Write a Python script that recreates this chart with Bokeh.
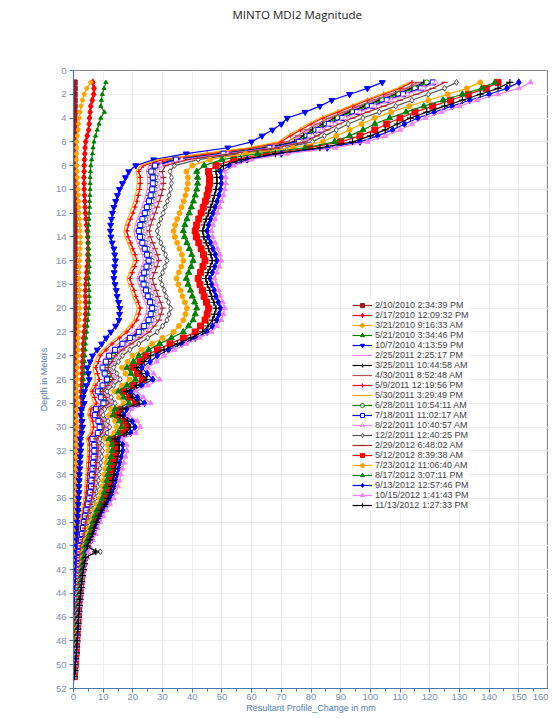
from bokeh.plotting import figure
from bokeh.models import Range1d, FixedTicker, Legend, LegendItem
from bokeh.embed import file_html
from bokeh.resources import INLINE

depth = [
1.0, 1.5, 2.0, 2.5, 3.0, 3.5, 4.0, 4.5, 5.0, 5.5,
6.0, 6.5, 7.0, 7.5, 8.0, 8.5, 9.0, 9.5, 10.0, 10.5,
11.0, 11.5, 12.0, 12.5, 13.0, 13.5, 14.0, 14.5, 15.0, 15.5,
16.0, 16.5, 17.0, 17.5, 18.0, 18.5, 19.0, 19.5, 20.0, 20.5,
21.0, 21.5, 22.0, 22.5, 23.0, 23.5, 24.0, 24.5, 25.0, 25.5,
26.0, 26.5, 27.0, 27.5, 28.0, 28.5, 29.0, 29.5, 30.0, 30.5,
31.0, 31.5, 32.0, 32.5, 33.0, 33.5, 34.0, 34.5, 35.0, 35.5,
36.0, 36.5, 37.0, 37.5, 38.0, 38.5, 39.0, 39.5, 40.0, 40.5,
41.0, 41.5, 42.0, 42.5, 43.0, 43.5, 44.0, 44.5, 45.0, 45.5,
46.0, 46.5, 47.0, 47.5, 48.0, 48.5, 49.0, 49.5, 50.0, 50.5,
51.0]

labels = [
    "2/10/2010 2:34:39 PM", "2/17/2010 12:09:32 PM", "3/21/2010 9:16:33 AM",
    "5/21/2010 3:34:46 PM", "10/7/2010 4:13:59 PM", "2/25/2011 2:25:17 PM",
    "3/25/2011 10:44:58 AM", "4/30/2011 8:52:48 AM", "5/9/2011 12:19:56 PM",
    "5/30/2011 3:29:49 PM", "6/28/2011 10:54:11 AM", "7/18/2011 11:02:17 AM",
    "8/22/2011 10:40:57 AM", "12/2/2011 12:40:25 PM", "2/29/2012 6:48:02 AM",
    "5/12/2012 8:39:38 AM", "7/23/2012 11:06:40 AM", "8/17/2012 3:07:11 PM",
    "9/13/2012 12:57:46 PM", "10/15/2012 1:41:43 PM", "11/13/2012 1:27:33 PM",
]

v01 = [
0.4, 0.4, 0.4, 0.4, 0.4, 0.4, 0.4, 0.4, 0.4, 0.4,
0.4, 0.4, 0.4, 0.4, 0.4, 0.4, 0.4, 0.4, 0.4, 0.4,
0.4, 0.4, 0.4, 0.4, 0.4, 0.4, 0.4, 0.4, 0.4, 0.4,
0.4, 0.4, 0.4, 0.4, 0.4, 0.4, 0.4, 0.4, 0.4, 0.4,
0.4, 0.4, 0.4, 0.4, 0.4, 0.4, 0.4, 0.4, 0.4, 0.4,
0.4, 0.4, 0.4, 0.4, 0.4, 0.4, 0.4, 0.4, 0.4, 0.4,
0.4, 0.4, 0.4, 0.4, 0.4, 0.4, 0.4, 0.4, 0.4, 0.4,
0.4, 0.4, 0.4, 0.4, 0.4, 0.4, 0.4, 0.4, 0.4, 0.4,
0.4, 0.4, 0.4, 0.4, 0.4, 0.4, 0.4, 0.4, 0.4, 0.4,
0.4, 0.4, 0.4, 0.4, 0.4, 0.4, 0.4, 0.4, 0.4, 0.4,
0.4]
v02 = [
6.5, 6.9, 6.8, 6.3, 5.8, 5.6, 5.4, 5.3, 5.1, 4.6,
4.1, 3.9, 3.8, 3.7, 3.6, 3.6, 3.5, 3.6, 3.6, 3.7,
3.8, 3.9, 4.0, 4.2, 4.4, 4.6, 4.8, 4.9, 4.9, 4.8,
4.8, 4.6, 4.4, 4.3, 4.1, 4.0, 4.0, 4.1, 4.2, 4.1,
4.0, 3.8, 3.6, 3.4, 3.3, 3.2, 3.1, 3.0, 2.9, 2.9,
2.8, 2.7, 2.6, 2.6, 2.8, 2.5, 2.4, 2.5, 2.4, 2.3,
2.2, 2.2, 2.1, 2.1, 2.0, 2.0, 1.9, 1.9, 1.8, 1.8,
1.7, 1.7, 1.6, 1.6, 1.5, 1.5, 1.4, 1.4, 1.3, 1.4,
1.2, 1.2, 1.1, 1.1, 1.0, 1.0, 0.9, 0.9, 0.8, 0.8,
0.7, 0.7, 0.6, 0.6, 0.5, 0.5, 0.4, 0.4, 0.3, 0.3,
0.2]
v03 = [
5.8, 4.5, 3.6, 3.0, 2.5, 2.2, 1.9, 1.7, 1.6, 1.3,
1.1, 1.1, 1.0, 1.0, 1.1, 1.2, 1.3, 1.4, 1.5, 1.6,
1.7, 1.8, 1.9, 2.0, 2.1, 2.2, 2.3, 2.3, 2.2, 2.1,
2.0, 2.0, 1.9, 1.9, 1.9, 2.0, 2.0, 2.1, 2.1, 2.0,
1.9, 1.8, 1.7, 1.6, 1.5, 1.5, 1.4, 1.4, 1.3, 1.3,
1.2, 1.2, 1.1, 1.1, 1.3, 1.1, 1.0, 1.0, 1.0, 0.9,
0.9, 0.9, 0.8, 0.8, 0.8, 0.8, 0.7, 0.7, 0.7, 0.7,
0.6, 0.6, 0.6, 0.6, 0.5, 0.5, 0.5, 0.5, 0.5, 0.5,
0.4, 0.4, 0.4, 0.4, 0.4, 0.3, 0.3, 0.3, 0.3, 0.3,
0.3, 0.2, 0.2, 0.2, 0.2, 0.2, 0.2, 0.1, 0.1, 0.1,
0.1]
v04 = [
10.9, 10.3, 9.7, 9.4, 9.2, 10.4, 9.2, 8.6, 8.0, 7.4,
6.9, 6.6, 6.4, 6.1, 5.8, 5.7, 5.6, 5.6, 5.6, 5.5,
5.4, 5.4, 5.3, 5.2, 5.1, 5.0, 4.9, 5.0, 5.1, 5.2,
5.3, 5.3, 5.2, 5.1, 5.1, 5.2, 5.3, 5.3, 5.2, 5.0,
4.8, 4.6, 4.4, 4.2, 4.0, 3.9, 3.8, 3.7, 3.6, 3.5,
3.4, 3.3, 3.2, 3.1, 3.3, 3.0, 2.9, 2.9, 2.8, 2.7,
2.6, 2.6, 2.5, 2.4, 2.3, 2.2, 2.2, 2.1, 2.0, 2.0,
1.9, 1.8, 1.8, 1.7, 1.6, 1.6, 1.5, 1.5, 1.4, 1.5,
1.3, 1.3, 1.2, 1.2, 1.1, 1.1, 1.0, 1.0, 0.9, 0.9,
0.8, 0.8, 0.7, 0.7, 0.6, 0.6, 0.5, 0.5, 0.4, 0.4,
0.3]
v05 = [
104, 99, 93, 87, 83, 78, 72, 70, 67, 63.5,
60, 52, 38, 27, 21, 18.6, 17.5, 16.5, 15.5, 14.8,
14.2, 13.6, 13.1, 12.8, 12.5, 12.4, 12.6, 13.0, 13.6, 13.9,
14.1, 13.9, 13.7, 13.6, 14.0, 14.4, 14.7, 15.2, 15.6, 15.5,
15.3, 14.2, 12.6, 11.0, 9.5, 8.0, 6.4, 5.6, 4.7, 5.0,
5.3, 4.4, 3.7, 3.2, 3.6, 2.7, 2.5, 2.9, 3.1, 2.8,
2.3, 2.5, 2.4, 2.3, 2.2, 2.1, 2.0, 1.9, 1.8, 1.8,
1.7, 1.6, 1.5, 1.4, 1.3, 1.2, 1.1, 1.1, 1.0, 1.0,
0.9, 0.9, 0.8, 0.8, 0.8, 0.7, 0.7, 0.7, 0.6, 0.6,
0.6, 0.5, 0.5, 0.5, 0.4, 0.4, 0.3, 0.3, 0.2, 0.2,
0.1]
v06 = [
117, 113, 107.5, 102, 97, 92, 87, 83, 79.5, 76.5,
73.5, 63, 47.5, 32, 25.5, 24.5, 25.0, 25.0, 24.8, 24.3,
23.7, 23.0, 22.3, 21.5, 20.8, 20.3, 20.7, 21.5, 22.3, 23.1,
23.6, 22.9, 22.1, 21.3, 21.9, 22.7, 23.3, 24.1, 24.8, 24.3,
23.6, 22.1, 20.3, 17.5, 15.0, 13.0, 11.0, 10.0, 9.0, 9.7,
10.4, 9.0, 7.6, 8.5, 9.4, 7.0, 6.7, 7.7, 8.1, 7.6,
5.9, 6.5, 6.5, 6.3, 6.1, 5.9, 5.8, 5.6, 5.4, 5.1,
4.9, 4.4, 4.0, 3.6, 3.2, 3.0, 2.7, 2.3, 2.0, 1.9,
1.8, 1.7, 1.6, 1.5, 1.4, 1.3, 1.3, 1.2, 1.1, 1.0,
1.0, 0.9, 0.8, 0.7, 0.7, 0.6, 0.5, 0.4, 0.3, 0.3,
0.2]
v07 = [
118, 114, 108.5, 103, 98, 93, 88, 84, 80.5, 77.5,
74.5, 64.5, 49, 33.5, 27.5, 26.5, 27.0, 27.0, 26.8, 26.3,
25.9, 25.2, 24.5, 23.7, 23.0, 22.5, 22.9, 23.7, 24.5, 25.3,
25.8, 25.1, 24.3, 23.5, 24.1, 24.9, 25.5, 26.3, 27.0, 26.5,
25.8, 24.3, 22.5, 19.5, 16.8, 14.8, 13.0, 12.0, 10.8, 11.6,
12.5, 10.8, 9.0, 10.1, 11.2, 8.4, 8.0, 9.2, 9.7, 9.0,
7.1, 7.7, 7.7, 7.5, 7.3, 7.1, 6.9, 6.7, 6.5, 6.1,
5.8, 5.3, 4.7, 4.3, 3.9, 3.5, 3.2, 2.8, 2.4, 2.2,
2.1, 2.0, 1.9, 1.8, 1.7, 1.6, 1.5, 1.4, 1.3, 1.2,
1.1, 1.0, 0.9, 0.8, 0.8, 0.7, 0.6, 0.5, 0.4, 0.3,
0.2]
v08 = [
116, 112, 106.5, 101, 96, 91, 86, 82, 78.5, 75.5,
72, 62, 47, 32.5, 26.5, 25.5, 26.0, 26.0, 25.8, 25.3,
24.9, 24.2, 23.5, 22.7, 22.0, 21.5, 21.9, 22.7, 23.5, 24.3,
24.8, 24.1, 23.3, 22.5, 23.1, 23.9, 24.5, 25.3, 26.0, 25.5,
24.8, 23.3, 21.5, 18.5, 16.0, 14.0, 12.5, 11.5, 10.3, 11.1,
11.9, 10.3, 8.6, 9.6, 10.7, 8.0, 7.6, 8.8, 9.2, 8.6,
6.8, 7.4, 7.4, 7.2, 7.0, 6.8, 6.6, 6.4, 6.2, 5.9,
5.5, 5.0, 4.5, 4.1, 3.7, 3.4, 3.1, 2.7, 2.3, 2.1,
2.0, 1.9, 1.8, 1.7, 1.6, 1.5, 1.4, 1.3, 1.2, 1.1,
1.0, 1.0, 0.9, 0.8, 0.7, 0.6, 0.5, 0.4, 0.4, 0.3,
0.2]
v09 = [
114, 110, 104.5, 99, 94, 89, 84, 80, 76.5, 73,
70, 60, 45, 30, 23.5, 22.0, 22.5, 22.5, 22.3, 21.8,
21.4, 20.7, 20.0, 19.2, 18.5, 18.0, 18.4, 19.2, 20.0, 20.8,
21.3, 20.6, 19.8, 19.0, 19.6, 20.4, 21.0, 21.8, 22.5, 22.0,
21.3, 19.8, 18.0, 15.5, 13.0, 11.0, 9.0, 8.4, 7.5, 8.1,
8.7, 7.5, 6.3, 7.1, 7.8, 5.9, 5.6, 6.5, 6.8, 6.3,
5.0, 5.4, 5.4, 5.3, 5.1, 5.0, 4.8, 4.7, 4.5, 4.3,
4.1, 3.7, 3.3, 3.0, 2.7, 2.5, 2.3, 2.0, 1.7, 1.6,
1.5, 1.5, 1.4, 1.3, 1.3, 1.2, 1.1, 1.1, 1.0, 1.0,
0.9, 0.8, 0.8, 0.7, 0.6, 0.5, 0.5, 0.4, 0.3, 0.2,
0.2]
v10 = [
113, 109, 103.5, 98, 93, 88, 83, 79, 75.5, 72,
69, 59, 43.5, 28.5, 22.5, 21.0, 21.5, 21.5, 21.3, 20.8,
20.4, 19.7, 19.0, 18.2, 17.5, 17.0, 17.4, 18.2, 19.0, 19.8,
20.3, 19.6, 18.8, 18.0, 18.6, 19.4, 20.0, 20.8, 21.5, 21.0,
20.3, 18.8, 17.0, 14.5, 12.0, 10.0, 8.0, 7.3, 6.5, 7.0,
7.5, 6.5, 5.5, 6.1, 6.8, 5.1, 4.8, 5.6, 5.9, 5.5,
4.3, 4.7, 4.7, 4.6, 4.4, 4.3, 4.2, 4.0, 3.9, 3.7,
3.5, 3.2, 2.9, 2.6, 2.3, 2.1, 2.0, 1.7, 1.4, 1.3,
1.3, 1.2, 1.2, 1.1, 1.1, 1.0, 1.0, 0.9, 0.9, 0.8,
0.8, 0.7, 0.7, 0.6, 0.5, 0.5, 0.4, 0.3, 0.3, 0.2,
0.1]
v11 = [
119, 115, 109.5, 104, 99, 94, 89, 85, 81.5, 78.5,
75.5, 65.5, 50, 34, 28, 27.0, 27.6, 27.6, 27.4, 27.0,
26.4, 25.7, 25.0, 24.2, 23.5, 23.0, 23.4, 24.2, 25.0, 25.8,
26.3, 25.6, 24.8, 24.0, 24.6, 25.4, 26.0, 26.8, 27.5, 27.0,
26.3, 24.8, 23.0, 20.0, 17.3, 15.0, 13.5, 12.3, 11.0, 11.9,
12.8, 11.0, 9.2, 10.3, 11.4, 8.6, 8.1, 9.5, 9.9, 9.2,
7.3, 7.9, 7.9, 7.7, 7.5, 7.3, 7.0, 6.8, 6.6, 6.3,
5.9, 5.4, 4.8, 4.4, 4.0, 3.6, 3.3, 2.9, 2.4, 2.2,
2.1, 2.0, 1.9, 1.8, 1.7, 1.6, 1.5, 1.4, 1.3, 1.2,
1.1, 1.0, 1.0, 0.9, 0.8, 0.7, 0.6, 0.5, 0.4, 0.3,
0.2]
v12 = [
121, 117, 111, 105.5, 100.5, 95.5, 90.5, 86, 82.5, 79.5,
76, 66, 50.5, 34.5, 27.5, 26.2, 26.7, 26.7, 26.5, 26.0,
25.4, 24.7, 24.0, 23.2, 22.5, 22.0, 22.4, 23.2, 24.0, 24.8,
25.3, 24.6, 23.8, 23.0, 23.6, 24.4, 25.0, 25.8, 26.5, 26.0,
25.3, 23.8, 22.0, 19.0, 16.5, 14.0, 12.0, 10.9, 9.8, 10.5,
11.3, 9.8, 8.2, 9.2, 10.1, 7.6, 7.2, 8.4, 8.8, 8.2,
6.4, 7.0, 7.0, 6.8, 6.6, 6.4, 6.2, 6.0, 5.9, 5.6,
5.3, 4.8, 4.3, 3.9, 3.5, 3.2, 2.9, 2.5, 2.1, 2.0,
1.9, 1.8, 1.7, 1.6, 1.5, 1.4, 1.3, 1.2, 1.2, 1.1,
1.0, 1.0, 0.9, 0.8, 0.7, 0.6, 0.5, 0.5, 0.4, 0.3,
0.2]
v13 = [
122, 118, 112.5, 107, 101.5, 96.5, 91.5, 87, 83.5, 80.5,
77, 67.5, 52, 36.5, 29.5, 28.5, 29.0, 29.0, 28.7, 28.2,
27.7, 27.0, 26.3, 25.5, 24.8, 24.3, 24.7, 25.5, 26.3, 27.1,
27.6, 26.9, 26.1, 25.3, 25.9, 26.7, 27.3, 28.1, 28.8, 28.3,
27.6, 26.1, 24.3, 21.5, 18.5, 16.0, 15.0, 13.7, 12.3, 13.2,
14.2, 12.3, 10.3, 11.5, 12.7, 9.6, 9.1, 10.5, 11.0, 10.3,
8.1, 8.8, 8.8, 8.6, 8.3, 8.1, 7.8, 7.6, 7.4, 7.0,
6.6, 6.0, 5.4, 4.9, 4.4, 4.0, 3.7, 3.2, 2.7, 2.5,
2.3, 2.2, 2.1, 2.0, 1.9, 1.8, 1.7, 1.6, 1.5, 1.4,
1.3, 1.2, 1.1, 1.0, 0.9, 0.8, 0.7, 0.6, 0.5, 0.4,
0.2]
v14 = [
129, 125, 119.5, 114, 108.5, 103, 97.5, 92.5, 88.5, 84.5,
80.5, 71, 56, 42, 34, 32.5, 33.0, 33.0, 32.7, 32.2,
31.6, 30.9, 30.2, 29.4, 28.7, 28.2, 28.6, 29.4, 30.2, 31.0,
31.5, 30.8, 30.0, 29.2, 29.8, 30.6, 31.2, 32.0, 32.7, 32.2,
31.5, 30.0, 28.2, 25.0, 22.0, 19.0, 16.5, 15.1, 13.5, 14.6,
15.7, 13.5, 11.3, 12.7, 14.0, 10.5, 10.0, 11.6, 12.2, 11.3,
8.9, 9.7, 9.7, 9.5, 9.2, 8.9, 8.6, 8.4, 8.1, 7.7,
7.3, 6.6, 5.9, 5.4, 4.9, 4.4, 4.1, 3.5, 3.0, 9.0,
2.9, 2.6, 2.4, 2.2, 2.0, 1.9, 1.8, 1.6, 1.5, 1.4,
1.3, 1.2, 1.1, 1.0, 0.9, 0.8, 0.7, 0.6, 0.5, 0.4,
0.2]
v15 = [
125, 121, 115.5, 110, 104.5, 99, 94, 89.5, 85.5, 82,
78, 68.5, 53.5, 38.5, 31, 29.8, 30.3, 30.3, 30.0, 29.5,
28.9, 28.2, 27.5, 26.7, 26.0, 25.5, 25.9, 26.7, 27.5, 28.3,
28.8, 28.1, 27.3, 26.5, 27.1, 27.9, 28.5, 29.3, 30.0, 29.5,
28.8, 27.3, 25.5, 22.5, 19.5, 16.5, 14.0, 12.9, 11.5, 12.4,
13.3, 11.5, 9.7, 10.8, 12.0, 9.0, 8.5, 9.9, 10.4, 9.7,
7.6, 8.3, 8.3, 8.1, 7.8, 7.6, 7.4, 7.1, 6.9, 6.6,
6.2, 5.7, 5.1, 4.6, 4.1, 3.8, 3.5, 3.0, 2.5, 2.3,
2.2, 2.1, 2.0, 1.9, 1.8, 1.7, 1.6, 1.5, 1.4, 1.3,
1.2, 1.1, 1.0, 0.9, 0.8, 0.7, 0.6, 0.5, 0.4, 0.3,
0.2]
v16 = [
143, 139, 133, 127, 121, 115, 110, 105.5, 101.5, 96.5,
90, 79.5, 65, 54, 48, 45.5, 45.8, 45.8, 45.5, 45.0,
44.4, 43.7, 43.0, 42.2, 41.5, 41.0, 41.4, 42.2, 43.0, 43.8,
44.3, 43.6, 42.8, 42.0, 42.6, 43.4, 44.0, 44.8, 45.5, 45.0,
44.3, 42.8, 41.0, 37.0, 32.5, 28.3, 24.3, 22.4, 20.0, 21.6,
23.2, 20.0, 16.8, 18.8, 20.8, 15.6, 14.8, 17.2, 18.0, 16.8,
13.2, 14.4, 14.4, 14.0, 13.6, 13.2, 12.8, 12.4, 12.0, 11.4,
10.8, 9.8, 8.8, 8.0, 7.2, 6.6, 6.0, 5.2, 4.4, 4.0,
3.7, 3.3, 3.0, 2.8, 2.6, 2.4, 2.2, 2.0, 1.8, 1.7,
1.6, 1.5, 1.3, 1.2, 1.1, 1.0, 0.9, 0.7, 0.6, 0.4,
0.3]
v17 = [
137, 132.5, 126, 119.5, 113, 107, 101.5, 97, 93, 88.5,
84, 74, 58, 46, 40, 38.0, 38.5, 38.5, 38.2, 37.7,
37.1, 36.4, 35.7, 34.9, 34.2, 33.7, 34.1, 34.9, 35.7, 36.5,
37.0, 36.3, 35.5, 34.7, 35.3, 36.1, 36.7, 37.5, 38.2, 37.7,
37.0, 35.5, 33.7, 30.0, 26.5, 23.0, 19.8, 18.2, 16.3, 17.5,
18.9, 16.3, 13.7, 15.3, 16.9, 12.7, 12.0, 14.0, 14.6, 13.7,
10.7, 11.7, 11.7, 11.4, 11.1, 10.7, 10.4, 10.1, 9.8, 9.3,
8.8, 8.0, 7.2, 6.5, 5.9, 5.3, 4.9, 4.2, 3.6, 3.3,
3.1, 2.8, 2.6, 2.4, 2.2, 2.0, 1.9, 1.7, 1.6, 1.5,
1.4, 1.3, 1.1, 1.0, 0.9, 0.8, 0.7, 0.6, 0.5, 0.4,
0.2]
v18 = [
142, 137.5, 131, 124.5, 118, 112, 106.5, 101.5, 97.5, 93,
88, 78, 62, 50, 44, 41.5, 41.8, 41.8, 41.5, 41.0,
40.4, 39.7, 39.0, 38.2, 37.5, 37.0, 37.4, 38.2, 39.0, 39.8,
40.3, 39.6, 38.8, 38.0, 38.6, 39.4, 40.0, 40.8, 41.5, 41.0,
40.3, 38.8, 37.0, 33.0, 29.0, 25.3, 22.0, 20.2, 18.0, 19.4,
20.9, 18.0, 15.1, 16.9, 18.7, 14.0, 13.3, 15.5, 16.2, 15.1,
11.9, 13.0, 13.0, 12.6, 12.2, 11.9, 11.5, 11.2, 10.8, 10.3,
9.7, 8.9, 7.9, 7.2, 6.5, 5.9, 5.4, 4.7, 4.0, 3.7,
3.4, 3.1, 2.8, 2.6, 2.4, 2.2, 2.0, 1.9, 1.7, 1.6,
1.5, 1.4, 1.2, 1.1, 1.0, 0.9, 0.8, 0.7, 0.5, 0.4,
0.3]
v19 = [
150, 146, 140, 133.5, 127.5, 121.5, 116, 111.5, 107.5, 102.5,
96.5, 85.5, 70, 58.5, 52.5, 49.5, 49.8, 49.8, 49.5, 49.0,
48.4, 47.7, 47.0, 46.2, 45.5, 45.0, 45.4, 46.2, 47.0, 47.8,
48.3, 47.6, 46.8, 46.0, 46.6, 47.4, 48.0, 48.8, 49.5, 49.0,
48.3, 46.8, 45.0, 41.0, 36.5, 32.0, 28.2, 25.8, 23.0, 24.8,
26.7, 23.0, 19.3, 21.6, 23.9, 17.9, 17.0, 19.8, 20.7, 19.3,
15.2, 16.6, 16.6, 16.1, 15.6, 15.2, 14.7, 14.3, 13.8, 13.2,
12.4, 11.3, 10.1, 9.2, 8.3, 7.5, 6.9, 6.0, 5.1, 4.6,
4.3, 3.8, 3.4, 3.1, 2.9, 2.7, 2.5, 2.3, 2.1, 1.9,
1.8, 1.7, 1.5, 1.4, 1.3, 1.1, 1.0, 0.8, 0.6, 0.5,
0.3]
v20 = [
154, 150, 143, 136, 130, 124, 118.5, 114, 110, 105,
99, 88, 72, 60, 54, 51.0, 51.3, 51.3, 51.0, 50.5,
49.9, 49.2, 48.5, 47.7, 47.0, 46.5, 46.9, 47.7, 48.5, 49.3,
49.8, 49.1, 48.3, 47.5, 48.1, 48.9, 49.5, 50.3, 51.0, 50.5,
49.8, 48.3, 46.5, 42.5, 38.0, 34.0, 30.5, 28.0, 25.0, 27.0,
29.0, 25.0, 21.0, 23.5, 26.0, 19.5, 18.5, 21.5, 22.5, 21.0,
16.5, 18.0, 18.0, 17.5, 17.0, 16.5, 16.0, 15.5, 15.0, 14.3,
13.5, 12.3, 11.0, 10.0, 9.0, 8.2, 7.5, 6.5, 5.5, 5.0,
4.5, 4.0, 3.6, 3.3, 3.0, 2.8, 2.6, 2.4, 2.2, 2.0,
1.9, 1.8, 1.6, 1.5, 1.4, 1.2, 1.1, 0.9, 0.7, 0.5,
0.3]
v21 = [
147, 143, 137, 131, 125, 119, 113.5, 109, 105, 100,
94, 83, 68, 56.5, 50.5, 48.0, 48.3, 48.3, 48.0, 47.5,
46.9, 46.2, 45.5, 44.7, 44.0, 43.5, 43.9, 44.7, 45.5, 46.3,
46.8, 46.1, 45.3, 44.5, 45.1, 45.9, 46.5, 47.3, 48.0, 47.5,
46.8, 45.3, 43.5, 39.5, 35.0, 30.5, 26.0, 23.8, 21.3, 23.0,
24.7, 21.3, 17.9, 20.0, 22.1, 16.6, 15.7, 18.3, 19.1, 17.9,
14.0, 15.3, 15.3, 14.9, 14.5, 14.0, 13.6, 13.2, 12.8, 12.2,
11.5, 10.5, 9.4, 8.5, 7.7, 7.0, 6.4, 5.5, 4.7, 7.5,
4.1, 3.7, 3.3, 3.0, 2.8, 2.6, 2.4, 2.2, 2.0, 1.9,
1.7, 1.6, 1.5, 1.4, 1.2, 1.1, 1.0, 0.8, 0.6, 0.5,
0.3]

series = [v01, v02, v03, v04, v05, v06, v07, v08, v09, v10, v11,
          v12, v13, v14, v15, v16, v17, v18, v19, v20, v21]

x_ticks = [0, 10, 20, 30, 40, 50, 60, 70, 80, 90, 100, 110, 120, 130, 140, 150, 160]
x_minor = [5, 15, 25, 35, 45, 55, 65, 75, 85, 95, 105, 115, 125, 135, 145, 155]
y_ticks = [0, 2, 4, 6, 8, 10, 12, 14, 16, 18, 20, 22, 24, 26, 28, 30, 32, 34, 36,
           38, 40, 42, 44, 46, 48, 50, 52]

for s in series:
    assert len(s) == len(depth), len(s)

# style: (colour, marker, filled, size)
styles = [
    ("#9B1C1C", "square", True, 5),
    ("#FF0000", "diamond", True, 7),
    ("#FFA500", "circle", True, 4),
    ("#008000", "triangle", True, 4),
    ("#0000FF", "inverted_triangle", True, 6),
    ("#EE82EE", None, True, 0),
    ("#000000", "cross", True, 6),
    ("#B85450", "dash", True, 6),
    ("#FF0000", "cross", True, 5),
    ("#FFA500", None, True, 0),
    ("#008000", "circle", False, 5),
    ("#0000FF", "square", False, 5),
    ("#EE82EE", "triangle", False, 5),
    ("#555555", "diamond", False, 6),
    ("#A52A2A", "dash", True, 6),
    ("#FF0000", "square", True, 6),
    ("#FFA500", "circle", True, 5),
    ("#008000", "triangle", True, 6),
    ("#0000FF", "diamond", True, 7),
    ("#EE82EE", "triangle", True, 5),
    ("#000000", "cross", True, 7),
]

p = figure(width=548, height=715, output_backend="svg", toolbar_location=None,
           x_range=Range1d(0, 160), y_range=Range1d(52, 0),
           min_border_left=73, min_border_right=0, min_border_top=70,
           min_border_bottom=27)
p.background_fill_color = "white"
p.border_fill_color = "white"
p.outline_line_color = "#8A8A8A"
p.outline_line_width = 1.2

p.title.text = "MINTO MDI2 Magnitude\n \n \n"
p.title.text_font = "Open Sans"
p.title.text_font_size = "11.5px"
p.title.text_font_style = "normal"
p.title.text_color = "#222222"
p.title.align = "left"
p.title.offset = 159
p.title.standoff = 8

p.xaxis.ticker = FixedTicker(ticks=x_ticks, minor_ticks=x_minor)
p.yaxis.ticker = FixedTicker(ticks=y_ticks)
for ax in (p.xaxis, p.yaxis):
    ax.axis_line_color = "#4A78A8"
    ax.major_tick_line_color = "#4A78A8"
    ax.minor_tick_line_color = "#4A78A8"
    ax.major_label_text_color = "#7F8EA6"
    ax.major_label_text_font = "Liberation Sans"
    ax.major_label_text_font_size = "9.5px"
    ax.axis_label_text_color = "#4F7DB3"
    ax.axis_label_text_font = "Liberation Sans"
    ax.axis_label_text_font_size = "9px"
    ax.axis_label_text_font_style = "normal"
    ax.major_tick_out = 4
    ax.major_tick_in = 0
    ax.minor_tick_out = 3
    ax.minor_tick_in = 0
p.yaxis.minor_tick_line_color = None
p.xaxis.axis_label = "Resultant Profile_Change in mm"
p.yaxis.axis_label = "Depth in Meters"
p.xaxis.axis_label_standoff = 0
p.xaxis.major_label_standoff = 1
p.yaxis.major_label_standoff = 3
p.yaxis.axis_label_standoff = 4

p.xgrid.grid_line_color = "#ECECEC"
p.ygrid.grid_line_color = "#ECECEC"

items = []
for vals, lab, (col, mk, filled, sz) in zip(series, labels, styles):
    rs = [p.line(vals, depth, line_color=col, line_width=1.2)]
    if mk is not None:
        rs.append(p.scatter(vals, depth, marker=mk, size=sz, line_color=col,
                            fill_color=col if filled else "white",
                            line_width=1.2 if mk in ("cross", "dash") else 1))
    items.append(LegendItem(label=lab, renderers=rs))

legend = Legend(items=items, location=(279, 178))
legend.label_text_font = "Liberation Sans"
legend.label_text_font_size = "9px"
legend.label_text_color = "#444444"
legend.label_height = 10
legend.glyph_height = 10
legend.glyph_width = 20
legend.spacing = 0
legend.padding = 2
legend.margin = 0
legend.label_standoff = 3
legend.border_line_color = None
legend.background_fill_color = "white"
legend.background_fill_alpha = 0.85
p.add_layout(legend, "center")

open("out.html", "w").write(file_html(p, INLINE))
